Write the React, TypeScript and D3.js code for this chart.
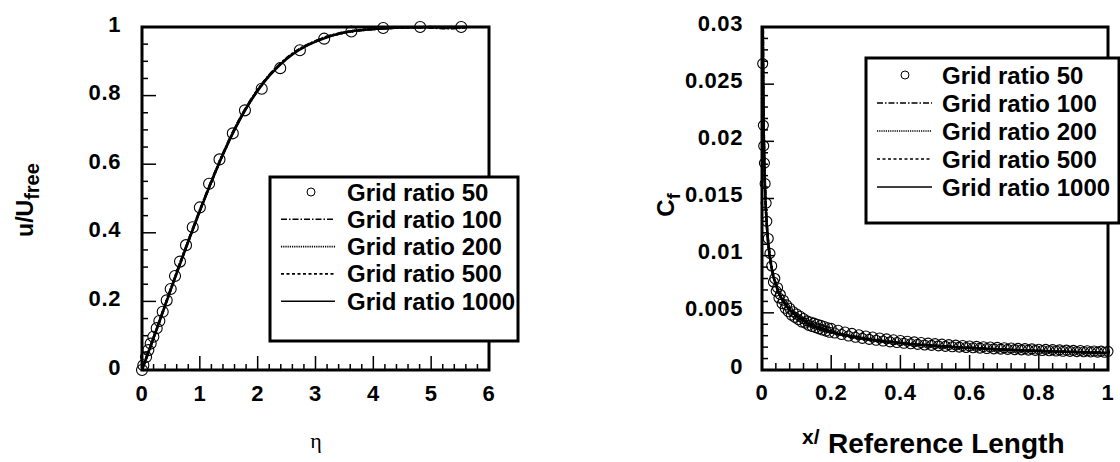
import React from "react";
import * as d3 from "d3";

// ---------- Left panel: velocity profile ----------
const etaTicks = [0, 1, 2, 3, 4, 5, 6];
const uTicks = [0, 0.2, 0.4, 0.6, 0.8, 1];
const uTickLabels = ["0", "0.2", "0.4", "0.6", "0.8", "1"];

const circEta = [0, 0.023, 0.07, 0.11, 0.15, 0.196, 0.254, 0.3, 0.358, 0.427, 0.496, 0.571, 0.657, 0.761, 0.877, 1.0, 1.16, 1.34, 1.57, 1.78, 2.07, 2.39, 2.73, 3.15, 3.62, 4.17, 4.81, 5.52];
const circU = [0, 0.014, 0.038, 0.058, 0.077, 0.097, 0.122, 0.143, 0.17, 0.203, 0.236, 0.274, 0.316, 0.364, 0.416, 0.474, 0.543, 0.614, 0.69, 0.757, 0.82, 0.88, 0.932, 0.966, 0.987, 0.997, 1.0, 1.0];

const lineEta = [0, 0.2, 0.4, 0.6, 0.8, 1.0, 1.2, 1.4, 1.6, 1.8, 2.0, 2.2, 2.4, 2.6, 2.8, 3.0, 3.2, 3.4, 3.6, 3.8, 4.0, 4.3, 4.6, 5.0, 5.3, 5.6];
const u100 = [0, 0.095, 0.19, 0.285, 0.377, 0.466, 0.551, 0.631, 0.703, 0.765, 0.817, 0.86, 0.894, 0.922, 0.943, 0.959, 0.972, 0.981, 0.987, 0.991, 0.994, 0.997, 0.999, 0.998, 0.996, 0.999];
const u200 = [0, 0.094, 0.189, 0.284, 0.376, 0.465, 0.55, 0.63, 0.702, 0.764, 0.816, 0.859, 0.893, 0.921, 0.942, 0.958, 0.971, 0.98, 0.987, 0.991, 0.994, 0.997, 0.999, 0.999, 0.997, 1.0];
const u500 = [0, 0.094, 0.188, 0.283, 0.375, 0.464, 0.549, 0.629, 0.701, 0.763, 0.815, 0.858, 0.893, 0.921, 0.942, 0.958, 0.971, 0.98, 0.987, 0.991, 0.994, 0.997, 0.999, 1.0, 0.998, 1.0];
const u1000 = [0, 0.093, 0.188, 0.282, 0.374, 0.463, 0.548, 0.628, 0.7, 0.762, 0.814, 0.857, 0.892, 0.92, 0.941, 0.957, 0.97, 0.98, 0.987, 0.991, 0.994, 0.997, 0.999, 1.0, 1.0, 1.0];

// ---------- Right panel: skin friction ----------
const xTicks = [0, 0.2, 0.4, 0.6, 0.8, 1];
const xTickLabels = ["0", "0.2", "0.4", "0.6", "0.8", "1"];
const cfTicks = [0, 0.005, 0.01, 0.015, 0.02, 0.025, 0.03];
const cfTickLabels = ["0", "0.005", "0.01", "0.015", "0.02", "0.025", "0.03"];

const cfCircX = [0.002, 0.004, 0.005, 0.007, 0.009, 0.012, 0.014, 0.018, 0.023, 0.028, 0.037, 0.045, 0.053, 0.062, 0.071, 0.08, 0.09, 0.1, 0.11, 0.12, 0.13, 0.14, 0.15, 0.16, 0.17, 0.18, 0.19,
  0.2, 0.22, 0.24, 0.26, 0.28, 0.3, 0.32, 0.34, 0.36, 0.38, 0.4, 0.42, 0.44, 0.46, 0.48, 0.5, 0.52, 0.54, 0.56, 0.58, 0.6, 0.62, 0.64, 0.66, 0.68, 0.7, 0.72, 0.74, 0.76, 0.78, 0.8, 0.82, 0.84, 0.86, 0.88, 0.9, 0.92, 0.94, 0.96, 0.98, 1.0];
const cfCirc = [0.0268, 0.0214, 0.0196, 0.0181, 0.0163, 0.0146, 0.013, 0.0115, 0.0102, 0.0091, 0.008, 0.0072, 0.0066, 0.0061, 0.0057, 0.0054, 0.0051, 0.0049, 0.0047, 0.0045, 0.0043, 0.0042, 0.0041, 0.004, 0.0039, 0.0038, 0.0037,
  0.00364, 0.00348, 0.00333, 0.0032, 0.00308, 0.00298, 0.00288, 0.0028, 0.00272, 0.00264, 0.00258, 0.00252, 0.00246, 0.0024, 0.00235, 0.00231, 0.00226, 0.00222, 0.00218, 0.00214, 0.0021, 0.00207, 0.00204, 0.00201, 0.00198, 0.00195, 0.00192, 0.00189, 0.00187, 0.00185, 0.00182, 0.0018, 0.00178, 0.00176, 0.00174, 0.00172, 0.0017, 0.00168, 0.00166, 0.00165, 0.00163];
// second, staggered row of grid-ratio-50 circles visible in the band
const cfCirc2X = [0.033, 0.041, 0.049, 0.058, 0.067, 0.076, 0.085, 0.095, 0.105, 0.115, 0.125, 0.135, 0.145, 0.155, 0.165, 0.175, 0.185, 0.195,
  0.21, 0.23, 0.25, 0.27, 0.29, 0.31, 0.33, 0.35, 0.37, 0.39, 0.41, 0.43, 0.45, 0.47, 0.49, 0.51, 0.53, 0.55, 0.57, 0.59, 0.61, 0.63, 0.65, 0.67, 0.69, 0.71, 0.73, 0.75, 0.77, 0.79, 0.81, 0.83, 0.85, 0.87, 0.89, 0.91, 0.93, 0.95, 0.97, 0.99];
const cfCirc2 = [0.0077, 0.0069, 0.0063, 0.0058, 0.0054, 0.0051, 0.0048, 0.0046, 0.0044, 0.0042, 0.0041, 0.0039, 0.0038, 0.0037, 0.0036, 0.0035, 0.0034, 0.0033,
  0.00323, 0.0031, 0.00297, 0.00286, 0.00277, 0.00268, 0.0026, 0.00253, 0.00246, 0.0024, 0.00234, 0.00229, 0.00224, 0.00219, 0.00215, 0.00211, 0.00207, 0.00203, 0.002, 0.00197, 0.00194, 0.00191, 0.00188, 0.00185, 0.00183, 0.0018, 0.00178, 0.00176, 0.00174, 0.00172, 0.0017, 0.00168, 0.00166, 0.00164, 0.00163, 0.00161, 0.00159, 0.00158, 0.00156, 0.00155];

const cfLineX = [0.0025, 0.003, 0.004, 0.005, 0.0075, 0.01, 0.015, 0.02, 0.03, 0.04, 0.05, 0.06, 0.08, 0.1, 0.125, 0.15, 0.2, 0.25, 0.3, 0.4, 0.5, 0.6, 0.7, 0.8, 0.9, 1.0];
const cf100 = [0.0299, 0.0274, 0.0238, 0.0213, 0.0174, 0.0151, 0.0123, 0.0107, 0.0087, 0.00755, 0.00676, 0.00617, 0.00535, 0.00479, 0.00428, 0.0039, 0.00338, 0.00302, 0.00276, 0.00239, 0.00214, 0.00196, 0.0018, 0.00169, 0.0016, 0.00151];
const cf200 = [0.0298, 0.0273, 0.0237, 0.0212, 0.0173, 0.015, 0.0122, 0.0106, 0.0086, 0.0075, 0.0067, 0.00612, 0.0053, 0.00475, 0.00424, 0.00386, 0.00335, 0.003, 0.00274, 0.00237, 0.00212, 0.00194, 0.00179, 0.00167, 0.00158, 0.0015];
const cf500 = [0.0297, 0.0272, 0.0236, 0.0211, 0.0172, 0.0149, 0.0122, 0.0105, 0.0086, 0.00745, 0.00667, 0.00609, 0.00527, 0.00472, 0.00422, 0.00385, 0.00333, 0.00298, 0.00272, 0.00236, 0.00211, 0.00193, 0.00178, 0.00166, 0.00157, 0.00149];
const cf1000 = [0.0297, 0.0271, 0.0235, 0.021, 0.01714, 0.01485, 0.01212, 0.0105, 0.00857, 0.00742, 0.00664, 0.00606, 0.00525, 0.0047, 0.0042, 0.00383, 0.00332, 0.00297, 0.00271, 0.00235, 0.0021, 0.00192, 0.00177, 0.00166, 0.00157, 0.00148];

const legendLabels = ["Grid ratio 50", "Grid ratio 100", "Grid ratio 200", "Grid ratio 500", "Grid ratio 1000"];
const dashes = ["6,2,1.5,2", "1.2,1", "3,2.5", ""];

const SANS = "'Liberation Sans', Arial, Helvetica, sans-serif";

function minorTicks(lo: number, hi: number, step: number) {
  const out: number[] = [];
  const n = Math.round((hi - lo) / step);
  for (let i = 0; i <= n; i++) out.push(lo + i * step);
  return out;
}

function Legend({ x0, y0, x1, y1, row0, rowStep, symX, lineX0, lineX1, textX }: any) {
  return (
    <g>
      <rect x={x0} y={y0} width={x1 - x0} height={y1 - y0} fill="white" stroke="black" strokeWidth={3} />
      {legendLabels.map((lab, i) => {
        const y = row0 + i * rowStep;
        return (
          <g key={lab}>
            {i === 0 ? (
              <circle cx={symX} cy={y} r={4} fill="none" stroke="black" strokeWidth={1} />
            ) : (
              <line x1={lineX0} x2={lineX1} y1={y} y2={y} stroke="black" strokeWidth={1.6} strokeDasharray={dashes[i - 1]} />
            )}
            <text x={textX} y={y} dominantBaseline="central" fontFamily={SANS} fontWeight="bold" fontSize={24}>{lab}</text>
          </g>
        );
      })}
    </g>
  );
}

export default function App() {
  const xL = d3.scaleLinear().domain([0, 6]).range([142, 489]);
  const yL = d3.scaleLinear().domain([0, 1]).range([370, 27]);
  const xR = d3.scaleLinear().domain([0, 1]).range([762, 1108]);
  const yR = d3.scaleLinear().domain([0, 0.03]).range([370, 27]);

  const lineLeft = (ys: number[]) =>
    d3.line<number>().x((_, i) => xL(lineEta[i])).y((d) => yL(d)).curve(d3.curveMonotoneX)(ys) || "";
  const lineRight = (ys: number[]) =>
    d3.line<number>().x((_, i) => xR(cfLineX[i])).y((d) => yR(d)).curve(d3.curveMonotoneX)(ys) || "";

  const leftSeries = [u100, u200, u500, u1000];
  const rightSeries = [cf100, cf200, cf500, cf1000];

  const tickStyle = { stroke: "black", strokeWidth: 1.5 };
  const labStyle: any = { fontFamily: SANS, fontWeight: "bold", fontSize: 22, letterSpacing: 0.6 };

  return (
    <svg width={1120} height={462} style={{ position: "absolute", left: 0, top: 0, background: "white" }}>
      <defs>
        <clipPath id="clipL"><rect x={142} y={20} width={347} height={350} /></clipPath>
        <clipPath id="clipR"><rect x={762} y={27} width={346} height={343} /></clipPath>
      </defs>

      {/* ===== Left panel ===== */}
      {minorTicks(0, 6, 0.2).map((v, i) => (
        <line key={"lxm" + i} x1={xL(v)} x2={xL(v)} y1={370} y2={370 - (i % 5 === 0 ? 14 : 6)} style={tickStyle} />
      ))}
      {minorTicks(0, 1, 0.05).map((v, i) => (
        <line key={"lym" + i} x1={142} x2={142 + (i % 4 === 0 ? 14 : 6)} y1={yL(v)} y2={yL(v)} style={tickStyle} />
      ))}
      <g clipPath="url(#clipL)">
        {leftSeries.map((s, i) => (
          <path key={"ll" + i} d={lineLeft(s)} fill="none" stroke="black" strokeWidth={2.4} strokeDasharray={dashes[i]} />
        ))}
      </g>
      {circEta.map((e, i) => (
        <circle key={"lc" + i} cx={xL(e)} cy={yL(circU[i])} r={5.5} fill="none" stroke="black" strokeWidth={1.1} />
      ))}
      <rect x={142} y={27} width={347} height={343} fill="none" stroke="black" strokeWidth={3} />
      <Legend x0={270} y0={177} x1={518} y1={341} row0={192} rowStep={27.3} symX={311} lineX0={281} lineX1={335} textX={347} />

      {etaTicks.map((v) => (
        <text key={"lxl" + v} x={xL(v)} y={393} textAnchor="middle" dominantBaseline="central" style={labStyle}>{v}</text>
      ))}
      {uTicks.map((v, i) => (
        <text key={"lyl" + v} x={121} y={yL(v) - 3} textAnchor="end" dominantBaseline="central" style={labStyle}>{uTickLabels[i]}</text>
      ))}
      <text x={316} y={440} textAnchor="middle" dominantBaseline="central" fontFamily="'Liberation Serif', 'DejaVu Serif', serif" fontSize={22}>η</text>
      <text transform="translate(33,200) rotate(-90)" textAnchor="middle" fontFamily={SANS} fontWeight="bold" fontSize={23}>
        u/U<tspan fontSize={20} dy={6}>free</tspan>
      </text>

      {/* ===== Right panel ===== */}
      {minorTicks(0, 1, 0.04).map((v, i) => (
        <line key={"rxm" + i} x1={xR(v)} x2={xR(v)} y1={370} y2={370 - (i % 5 === 0 ? 15 : 7)} style={tickStyle} />
      ))}
      {minorTicks(0, 0.03, 0.001).map((v, i) => (
        <line key={"rym" + i} x1={762} x2={762 + (i % 5 === 0 ? 12 : 6)} y1={yR(v)} y2={yR(v)} style={tickStyle} />
      ))}
      <g clipPath="url(#clipR)">
        {rightSeries.map((s, i) => (
          <path key={"rl" + i} d={lineRight(s)} fill="none" stroke="black" strokeWidth={2.4} strokeDasharray={dashes[i]} />
        ))}
      </g>
      {cfCircX.map((x, i) => (
        <circle key={"rc" + i} cx={xR(x)} cy={yR(cfCirc[i])} r={5} fill="none" stroke="black" strokeWidth={1.1} />
      ))}
      {cfCirc2X.map((x, i) => (
        <circle key={"rc2" + i} cx={xR(x)} cy={yR(cfCirc2[i])} r={5} fill="none" stroke="black" strokeWidth={1.1} />
      ))}
      <rect x={762} y={27} width={346} height={343} fill="none" stroke="black" strokeWidth={3} />
      <Legend x0={866} y0={58} x1={1119} y1={223} row0={75} rowStep={28} symX={905} lineX0={877} lineX1={932} textX={942} />

      {xTicks.map((v, i) => (
        <text key={"rxl" + v} x={xR(v)} y={392} textAnchor="middle" dominantBaseline="central" style={labStyle}>{xTickLabels[i]}</text>
      ))}
      {cfTicks.map((v, i) => (
        <text key={"ryl" + v} x={743} y={yR(v) - 4} textAnchor="end" dominantBaseline="central" style={labStyle}>{cfTickLabels[i]}</text>
      ))}
      <text transform="translate(674,205) rotate(-90)" textAnchor="middle" fontFamily={SANS} fontWeight="bold" fontSize={24}>
        C<tspan fontSize={18} dy={6}>f</tspan>
      </text>
      <text x={802} y={444} fontFamily={SANS} fontWeight="bold" fontSize={21}>x/</text>
      <text x={828} y={453} fontFamily={SANS} fontWeight="bold" fontSize={28}>Reference Length</text>
    </svg>
  );
}
